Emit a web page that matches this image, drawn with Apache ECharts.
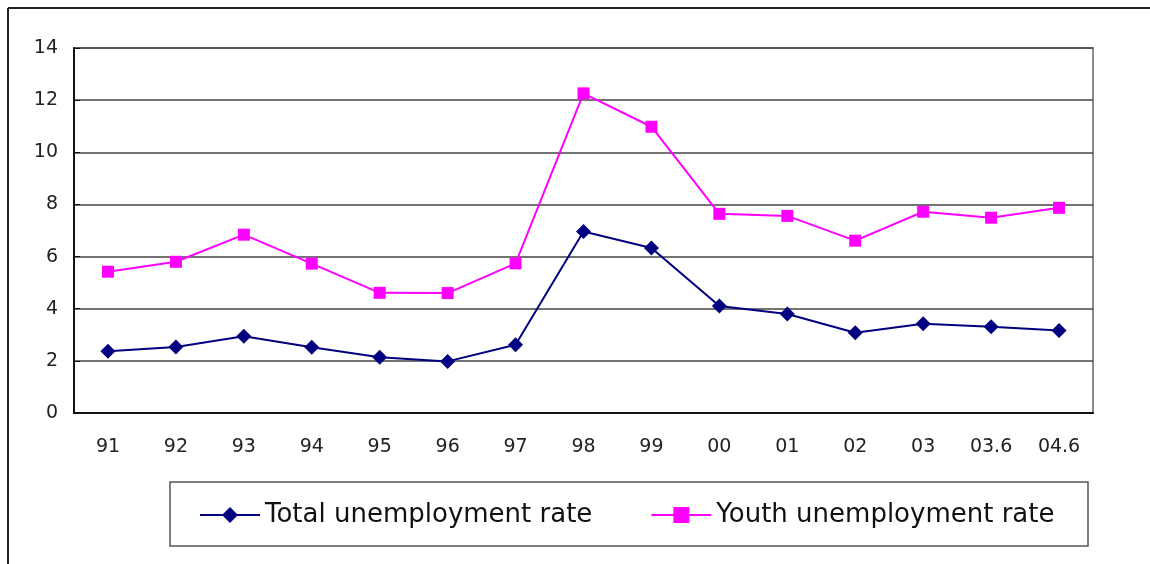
<!DOCTYPE html>
<html>
<head>
<meta charset="utf-8">
<script src="https://cdn.jsdelivr.net/npm/echarts@6/dist/echarts.min.js"></script>
<style>
  html, body { margin: 0; padding: 0; background: #fff; }
  #chart { width: 1150px; height: 564px; }
</style>
</head>
<body>
<div id="chart"></div>
<script>
var years = ['91', '92', '93', '94', '95', '96', '97', '98', '99', '00', '01', '02', '03', '03.6', '04.6'];
var totalRate = [2.37, 2.53, 2.94, 2.52, 2.14, 1.98, 2.62, 6.96, 6.33, 4.1, 3.8, 3.08, 3.42, 3.31, 3.16];
var youthRate = [5.42, 5.8, 6.84, 5.73, 4.61, 4.6, 5.74, 12.26, 10.98, 7.64, 7.56, 6.61, 7.72, 7.49, 7.87];

var fontName = 'DejaVu Sans';

var chart = echarts.init(document.getElementById('chart'));
var option = {
    backgroundColor: '#fff',
    animation: false,
    textStyle: { fontFamily: fontName },
    grid: {
        left: 74, right: 57, top: 48, bottom: 151,
        show: true, borderColor: '#8c8c8c', borderWidth: 2
    },
    graphic: [
        // outer frame (only top and left edges are visible)
        { type: 'line', shape: { x1: 8, y1: 8, x2: 1150, y2: 8 }, style: { stroke: '#222', lineWidth: 2 } },
        { type: 'line', shape: { x1: 8, y1: 8, x2: 8, y2: 564 }, style: { stroke: '#222', lineWidth: 2 } },
        // legend box
        { type: 'rect', shape: { x: 170, y: 482, width: 918, height: 64 }, style: { fill: 'none', stroke: '#555', lineWidth: 1.5 } }
    ],
    legend: {
        left: 194,
        top: 497,
        itemWidth: 60,
        itemHeight: 20,
        itemGap: 58,
        textStyle: { fontSize: 26, color: '#111', fontFamily: fontName },
        data: ['Total unemployment rate', 'Youth unemployment rate']
    },
    xAxis: {
        type: 'category',
        data: years,
        boundaryGap: true,
        axisLine: { lineStyle: { color: '#111', width: 2 } },
        axisTick: { inside: true, length: 6, lineStyle: { color: '#111' } },
        axisLabel: { fontSize: 19, color: '#222', margin: 25 }
    },
    yAxis: {
        type: 'value',
        min: 0,
        max: 14,
        interval: 2,
        axisLine: { show: true, lineStyle: { color: '#111', width: 2 } },
        axisTick: { show: true, inside: true, length: 6, lineStyle: { color: '#111' } },
        axisLabel: { fontSize: 19, color: '#222', margin: 16 },
        splitLine: { lineStyle: { color: '#444', width: 1.5 } }
    },
    series: [
        {
            name: 'Total unemployment rate',
            type: 'line',
            data: totalRate,
            symbol: 'diamond',
            symbolSize: 15,
            itemStyle: { color: '#000080' },
            lineStyle: { color: '#000080', width: 2 }
        },
        {
            name: 'Youth unemployment rate',
            type: 'line',
            data: youthRate,
            symbol: 'rect',
            symbolSize: 12,
            itemStyle: { color: '#ff00ff' },
            lineStyle: { color: '#ff00ff', width: 2 }
        }
    ]
};
chart.setOption(option);
window.addEventListener('resize', chart.resize);
</script>
</body>
</html>
